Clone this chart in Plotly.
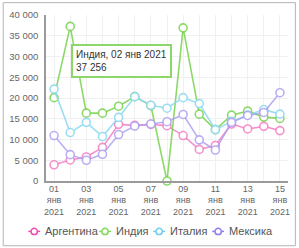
import plotly.graph_objects as go

dates = ["2021-01-01", "2021-01-02", "2021-01-03", "2021-01-04", "2021-01-05",
         "2021-01-06", "2021-01-07", "2021-01-08", "2021-01-09", "2021-01-10",
         "2021-01-11", "2021-01-12", "2021-01-13", "2021-01-14", "2021-01-15"]

argentina = [3900, 5070, 5790, 8100, 13650, 13400, 13650, 13330, 10950, 7620, 8570, 13730, 12540, 13170, 12140]
india = [20080, 37256, 16350, 16350, 18020, 20320, 18170, 0, 36900, 16110, 12380, 15870, 16830, 15400, 15080]
italy = [22140, 11670, 14130, 10710, 15320, 20320, 18250, 17540, 20080, 18650, 12380, 14370, 15870, 17220, 16110]
mexico = [10950, 6350, 5000, 6430, 11190, 13250, 13730, 14290, 16030, 9920, 7460, 14130, 15790, 16510, 21270]

series_names = ["Аргентина", "Индия", "Италия", "Мексика"]
series_values = [argentina, india, italy, mexico]
line_colors = ["rgba(240,110,190,0.75)", "rgba(120,210,80,0.85)", "rgba(140,215,240,0.85)", "rgba(170,155,240,0.8)"]
legend_colors = ["#ee4fb0", "#84d85c", "#6fcdf0", "#8f7eef"]

tick_vals = dates[::2]
tick_text = [d[8:10] + "<br>янв<br>" + d[:4] for d in tick_vals]

y_ticks = [0, 5000, 10000, 15000, 20000, 25000, 30000, 35000, 40000]

tooltip_series = "Индия"
tooltip_date = "02 янв 2021"
tooltip_value = "37 256"

FONT = "Liberation Sans, Arial, sans-serif"
W, H = 299, 248
ML, MR, MT, MB = 44, 9, 13, 67
PW, PH = W - ML - MR, H - MT - MB


def px(xp):
    return (xp - ML) / PW


def py(yp):
    return (H - MB - yp) / PH


fig = go.Figure()
for name, vals, col in zip(series_names, series_values, line_colors):
    fig.add_trace(go.Scatter(
        x=dates, y=vals, name=name, mode="lines+markers",
        line=dict(color=col, width=1.6),
        marker=dict(symbol="circle", size=8, color="white", line=dict(color=col, width=1.6)),
        cliponaxis=False, showlegend=False,
    ))

shapes = []
annotations = []
# outer border
shapes.append(dict(type="rect", xref="paper", yref="paper",
                   x0=px(0.5), x1=px(297.5), y0=py(246.5), y1=py(0.5),
                   line=dict(color="#b4b4b4", width=1), layer="below"))

# custom legend
legend_sym_x = [32, 104, 159, 219]
legend_y = 232
for name, col, sx in zip(series_names, legend_colors, legend_sym_x):
    shapes.append(dict(type="line", xref="paper", yref="paper",
                       x0=px(sx - 6), x1=px(sx + 6), y0=py(legend_y), y1=py(legend_y),
                       line=dict(color=col, width=1.5)))
    shapes.append(dict(type="circle", xref="paper", yref="paper",
                       x0=px(sx - 3.2), x1=px(sx + 3.2), y0=py(legend_y + 3.2), y1=py(legend_y - 3.2),
                       line=dict(color=col, width=1.5), fillcolor="white"))
    annotations.append(dict(xref="paper", yref="paper", x=px(sx + 9), y=py(legend_y),
                            xanchor="left", yanchor="middle", showarrow=False,
                            text=name, font=dict(family=FONT, size=11, color="#555555")))

# tooltip
annotations.append(dict(xref="paper", yref="paper", x=px(69), y=py(42),
                        xanchor="left", yanchor="top", showarrow=False, align="left",
                        text=f"{tooltip_series}, {tooltip_date}<br>{tooltip_value}",
                        font=dict(family=FONT, size=10, color="#333333"),
                        bgcolor="white", bordercolor="#8fd66a", borderwidth=2, borderpad=3))

fig.update_layout(
    width=W, height=H,
    margin=dict(l=ML, r=MR, t=MT, b=MB),
    paper_bgcolor="white", plot_bgcolor="white",
    separators=", ",
    showlegend=False,
    shapes=shapes, annotations=annotations,
    font=dict(family=FONT, size=9, color="#666666"),
    xaxis=dict(
        type="date", range=["2020-12-31 12:00", "2021-01-15 12:00"],
        tickmode="array", tickvals=tick_vals, ticktext=tick_text,
        showgrid=True, gridcolor="#f0f0f0", gridwidth=1,
        minor=dict(tickmode="array", tickvals=dates, showgrid=True, gridcolor="#f0f0f0"),
        showline=True, linecolor="#9a9a9a", linewidth=1.5,
        ticks="", ticklabelstandoff=-2,
        tickfont=dict(family=FONT, size=9, color="#666666"),
        zeroline=False, fixedrange=True,
    ),
    yaxis=dict(
        range=[0, 40000], tickmode="array", tickvals=y_ticks, tickformat=",d",
        showgrid=True, gridcolor="#f0f0f0", gridwidth=1,
        showline=True, linecolor="#9a9a9a", linewidth=1.5,
        ticks="outside", ticklen=4, tickcolor="rgba(0,0,0,0)",
        tickfont=dict(family=FONT, size=9.5, color="#666666"),
        zeroline=False, fixedrange=True,
    ),
)

fig.write_html("out.html", config={"displayModeBar": False})
